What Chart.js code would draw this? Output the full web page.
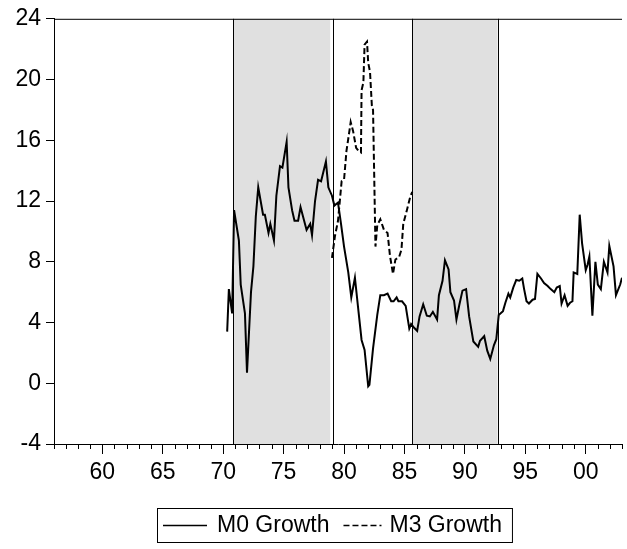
<!DOCTYPE html>
<html>
<head>
<meta charset="utf-8">
<script src="https://cdn.jsdelivr.net/npm/chart.js@4.4.1/dist/chart.umd.min.js"></script>
<style>
  html, body { margin: 0; padding: 0; background: #fff; }
  #wrap { width: 627px; height: 549px; position: relative; }
</style>
</head>
<body>
<div id="wrap"><canvas id="chart"></canvas></div>
<script>
// M0 growth (quarterly-ish readings, year -> %)
const m0Dates = [
  1970.33, 1970.47, 1970.74, 1970.9, 1971.3, 1971.45, 1971.8, 1971.97, 1972.3, 1972.5,
  1972.7, 1972.9, 1973.3, 1973.45, 1973.75, 1973.9, 1974.2, 1974.4, 1974.7, 1974.9,
  1975.25, 1975.4, 1975.7, 1975.9, 1976.2, 1976.4, 1976.6, 1976.9, 1977.2, 1977.35,
  1977.6, 1977.85, 1978.1, 1978.5, 1978.7, 1979.0, 1979.2, 1979.5, 1979.75, 1980.0,
  1980.35, 1980.6, 1980.9, 1981.2, 1981.45, 1981.7, 1982.0, 1982.1, 1982.4, 1982.75,
  1983.0, 1983.3, 1983.6, 1983.9, 1984.1, 1984.35, 1984.5, 1984.8, 1985.1, 1985.4,
  1985.55, 1985.8, 1986.05, 1986.25, 1986.55, 1986.85, 1987.1, 1987.35, 1987.7, 1987.85,
  1988.15, 1988.35, 1988.65, 1988.8, 1989.1, 1989.3, 1989.55, 1989.8, 1990.1, 1990.35,
  1990.7, 1991.1, 1991.25, 1991.6, 1991.85, 1992.1, 1992.4, 1992.6, 1992.8, 1993.15,
  1993.35, 1993.6, 1993.75, 1994.0, 1994.25, 1994.5, 1994.75, 1994.9, 1995.1, 1995.3,
  1995.6, 1995.8, 1996.0, 1996.3, 1996.55, 1996.85, 1997.1, 1997.4, 1997.6, 1997.85,
  1998.0, 1998.25, 1998.5, 1998.7, 1998.9, 1999.0, 1999.3, 1999.5, 1999.7, 2000.0,
  2000.15, 2000.3, 2000.55, 2000.8, 2001.0, 2001.25, 2001.5, 2001.8, 2001.95, 2002.3,
  2002.5, 2002.85, 2003.0
];
const m0Values = [
  3.4, 6.2, 4.6, 11.4, 9.4, 6.5, 4.6, 0.7, 6.0, 7.7,
  11.0, 12.9, 11.1, 11.1, 9.9, 10.5, 9.4, 12.35, 14.3, 14.2,
  15.9, 12.9, 11.4, 10.7, 10.7, 11.6, 11.0, 10.1, 10.5, 9.75,
  12.0, 13.4, 13.3, 14.6, 12.9, 12.35, 11.7, 11.9, 10.5, 9.0,
  7.3, 5.65, 6.95, 4.7, 2.85, 2.2, -0.2, -0.1, 2.3, 4.5,
  5.8, 5.8, 5.9, 5.4, 5.4, 5.65, 5.4, 5.4, 5.1, 3.6,
  3.9, 3.65, 3.45, 4.4, 5.2, 4.45, 4.4, 4.7, 4.2, 5.8,
  6.75, 8.1, 7.5, 6.0, 5.45, 4.2, 5.2, 6.1, 6.2, 4.4,
  2.75, 2.4, 2.8, 3.1, 2.15, 1.6, 2.5, 2.9, 4.5, 4.75,
  5.3, 5.9, 5.65, 6.3, 6.8, 6.75, 6.9, 6.2, 5.4, 5.25,
  5.5, 5.55, 7.2, 6.9, 6.6, 6.4, 6.2, 6.0, 6.3, 6.4,
  5.25, 5.8, 5.1, 5.3, 5.4, 7.3, 7.2, 11.1, 9.2, 7.45,
  7.8, 8.35, 4.45, 8.0, 6.5, 6.2, 8.0, 7.3, 9.05, 7.7,
  5.8, 6.5, 6.95
];

// M3 growth
const m3Dates = [
  1979.0, 1979.25, 1979.5, 1979.8, 1980.0, 1980.2, 1980.35, 1980.55, 1980.75, 1981.0,
  1981.2, 1981.4, 1981.45, 1981.6, 1981.7, 1981.9, 1982.0, 1982.15, 1982.3, 1982.4,
  1982.6, 1982.75, 1983.0, 1983.3, 1983.6, 1983.8, 1984.05, 1984.25, 1984.55, 1984.75,
  1984.9, 1985.2, 1985.5, 1985.65
];
const m3Values = [
  8.25, 9.7, 10.7, 13.3, 13.4, 15.3, 16.1, 17.2, 16.6, 15.5,
  15.3, 15.2, 19.3, 19.8, 22.3, 22.5, 21.1, 20.5, 18.3, 18.0,
  9.0, 10.4, 10.8, 10.1, 9.9, 8.4, 7.2, 8.15, 8.3, 8.8,
  10.5, 11.4, 12.35, 12.6
];

// shaded periods and separator lines (years)
const shadeFrom = [1970.85, 1985.65];
const shadeTo = [1978.85, 1992.7];
const splitLines = [1970.85, 1979.05, 1985.65, 1992.7];

// axes
const yTicks = [-4, 0, 4, 8, 12, 16, 20, 24];
const xTickYears = [];
for (let y = 1956; y <= 2003; y++) xTickYears.push(y);
const xLabelYears = [1960, 1965, 1970, 1975, 1980, 1985, 1990, 1995, 2000];
const xLabels = ['60', '65', '70', '75', '80', '85', '90', '95', '00'];

const FONT = 'Arial, "Liberation Sans", sans-serif';
const FSIZE = 23;

const bands = {
  id: 'bands',
  beforeDatasetsDraw(chart) {
    const { ctx, chartArea: a, scales: { x } } = chart;
    ctx.save();
    ctx.fillStyle = '#e0e0e0';
    for (let i = 0; i < shadeFrom.length; i++) {
      const x0 = x.getPixelForValue(shadeFrom[i]);
      const x1 = x.getPixelForValue(shadeTo[i]);
      ctx.fillRect(x0, a.top, x1 - x0, a.bottom - a.top);
    }
    ctx.strokeStyle = '#000';
    ctx.lineWidth = 1;
    splitLines.forEach(v => {
      const px = Math.round(x.getPixelForValue(v)) + 0.5;
      ctx.beginPath();
      ctx.moveTo(px, a.top);
      ctx.lineTo(px, a.bottom);
      ctx.stroke();
    });
    ctx.restore();
  },
  afterDraw(chart) {
    const { ctx, chartArea: a, scales: { x } } = chart;
    ctx.save();
    ctx.strokeStyle = '#000';
    ctx.lineWidth = 1;
    // top frame
    ctx.beginPath();
    ctx.moveTo(a.left, a.top + 0.5);
    ctx.lineTo(a.right, a.top + 0.5);
    ctx.stroke();
    // minor year ticks
    xTickYears.forEach(v => {
      if (v % 5 === 0) return;
      const px = Math.round(x.getPixelForValue(v)) + 0.5;
      ctx.beginPath();
      ctx.moveTo(px, a.bottom);
      ctx.lineTo(px, a.bottom + 5);
      ctx.stroke();
    });

    // legend
    ctx.font = FSIZE + 'px ' + FONT;
    ctx.fillStyle = '#000';
    ctx.textBaseline = 'middle';
    const bx = 157, by = 508, bh = 34;
    const t1 = 'M0 Growth', t2 = 'M3 Growth';
    const w1 = ctx.measureText(t1).width, w2 = ctx.measureText(t2).width;
    const s1 = bx + 6, l1 = 44;
    const tx1 = s1 + l1 + 10;
    const s2 = tx1 + w1 + 14, l2 = 38;
    const tx2 = s2 + l2 + 8;
    const bw = tx2 + w2 + 10 - bx;
    ctx.strokeRect(bx + 0.5, by + 0.5, bw, bh);
    const my = Math.round(by + bh / 2) + 0.5;
    ctx.lineWidth = 1.5;
    ctx.beginPath(); ctx.moveTo(s1, my); ctx.lineTo(s1 + l1, my); ctx.stroke();
    ctx.setLineDash([6, 3]);
    ctx.beginPath(); ctx.moveTo(s2, my); ctx.lineTo(s2 + l2, my); ctx.stroke();
    ctx.setLineDash([]);
    ctx.fillText(t1, tx1, by + bh / 2 + 1);
    ctx.fillText(t2, tx2, by + bh / 2 + 1);
    ctx.restore();
  }
};

new Chart(document.getElementById('chart'), {
  type: 'line',
  data: {
    datasets: [
      {
        label: 'M0 Growth',
        data: m0Dates.map((d, i) => ({ x: d, y: m0Values[i] })),
        borderColor: '#000',
        borderWidth: 2,
        pointRadius: 0,
        tension: 0,
        fill: false
      },
      {
        label: 'M3 Growth',
        data: m3Dates.map((d, i) => ({ x: d, y: m3Values[i] })),
        borderColor: '#000',
        borderWidth: 2,
        borderDash: [6, 3],
        pointRadius: 0,
        tension: 0,
        fill: false
      }
    ]
  },
  options: {
    responsive: true,
    maintainAspectRatio: false,
    animation: false,
    devicePixelRatio: 1,
    layout: { padding: { top: 12, right: 0, bottom: 0, left: 0 } },
    plugins: { legend: { display: false }, tooltip: { enabled: false } },
    scales: {
      x: {
        type: 'linear',
        min: 1956,
        max: 2003,
        afterBuildTicks: s => { s.ticks = xTickYears.map(v => ({ value: v })); },
        afterFit: s => { s.height = 105; },
        border: { display: true, color: '#000', width: 1 },
        grid: {
          drawOnChartArea: false,
          tickLength: 10,
          tickColor: c => (c.tick && c.tick.value % 5 === 0) ? '#000' : 'rgba(0,0,0,0)'
        },
        ticks: {
          autoSkip: false,
          maxRotation: 0,
          padding: 5,
          color: '#000',
          font: { family: FONT, size: FSIZE },
          callback: v => {
            const i = xLabelYears.indexOf(v);
            return i >= 0 ? xLabels[i] : '';
          }
        }
      },
      y: {
        min: -4,
        max: 24,
        afterBuildTicks: s => { s.ticks = yTicks.map(v => ({ value: v })); },
        afterFit: s => { s.width = 54; },
        border: { display: true, color: '#000', width: 1 },
        grid: { drawOnChartArea: false, tickLength: 8, tickColor: '#000' },
        ticks: {
          padding: 5,
          color: '#000',
          font: { family: FONT, size: FSIZE }
        }
      }
    }
  },
  plugins: [bands]
});
</script>
</body>
</html>
